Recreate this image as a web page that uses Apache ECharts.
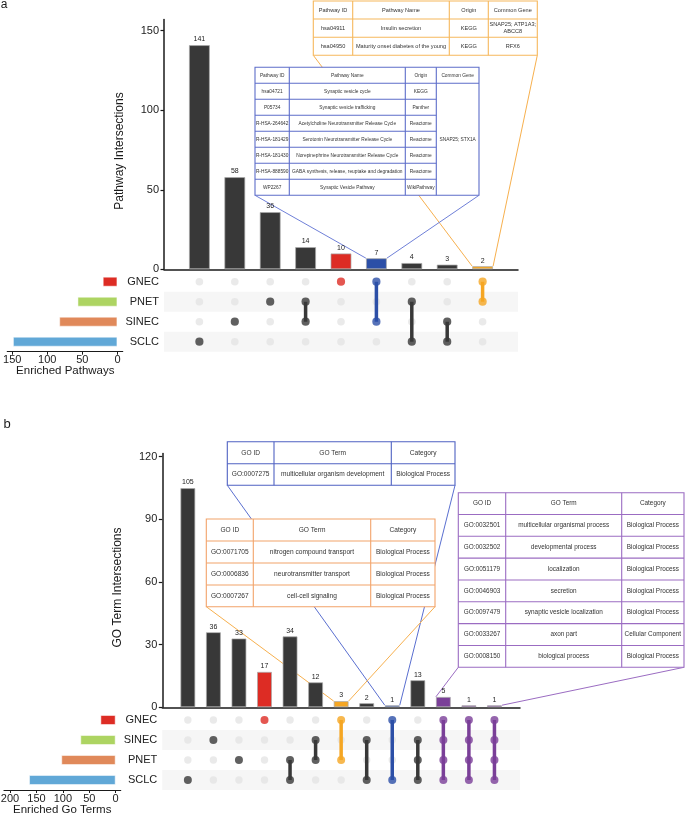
<!DOCTYPE html>
<html><head><meta charset="utf-8">
<script src="https://cdn.jsdelivr.net/npm/echarts@6/dist/echarts.min.js"></script>
<style>html,body{margin:0;padding:0;background:#fff}#c{width:685px;height:815px}</style>
</head><body><div id="c"></div>
<script>
// ---------------- data ----------------
const setsA = ['GNEC', 'PNET', 'SINEC', 'SCLC'];
const setSizesA = [21, 57, 83, 149];
const interValuesA = [141, 58, 36, 14, 10, 7, 4, 3, 2];
const interMembersA = [['SCLC'], ['SINEC'], ['PNET'], ['PNET', 'SINEC'], ['GNEC'], ['GNEC', 'SINEC'], ['PNET', 'SCLC'], ['SINEC', 'SCLC'], ['GNEC', 'PNET']];
const yTicksA = [0, 50, 100, 150];
const sideTicksA = [0, 50, 100, 150];

const setsB = ['GNEC', 'SINEC', 'PNET', 'SCLC'];
const setSizesB = [29, 67, 103, 164];
const interValuesB = [105, 36, 33, 17, 34, 12, 3, 2, 1, 13, 5, 1, 1];
const interMembersB = [['SCLC'], ['SINEC'], ['PNET'], ['GNEC'], ['PNET', 'SCLC'], ['SINEC', 'PNET'], ['GNEC', 'PNET'], ['SINEC', 'SCLC'], ['GNEC', 'SCLC'], ['SINEC', 'PNET', 'SCLC'], ['GNEC', 'SINEC', 'PNET', 'SCLC'], ['GNEC', 'SINEC', 'PNET', 'SCLC'], ['GNEC', 'SINEC', 'PNET', 'SCLC']];
const yTicksB = [0, 30, 60, 90, 120];
const sideTicksB = [0, 50, 100, 150, 200];

const tableA1Header = ['Pathway ID', 'Pathway Name', 'Origin', 'Common Gene'];
const tableA1Rows = [
  ['hsa04911', 'Insulin secretion', 'KEGG', 'SNAP25; ATP1A3;\nABCC8'],
  ['hsa04950', 'Maturity onset diabetes of the young', 'KEGG', 'RFX6']
];
const tableA2Header = ['Pathway ID', 'Pathway Name', 'Origin', 'Common Gene'];
const tableA2Rows = [
  ['hsa04721', 'Synaptic vesicle cycle', 'KEGG'],
  ['P05734', 'Synaptic vesicle trafficking', 'Panther'],
  ['R-HSA-264642', 'Acetylcholine Neurotransmitter Release Cycle', 'Reactome'],
  ['R-HSA-181429', 'Serotonin Neurotransmitter Release Cycle', 'Reactome'],
  ['R-HSA-181430', 'Norepinephrine Neurotransmitter Release Cycle', 'Reactome'],
  ['R-HSA-888590', 'GABA synthesis, release, reuptake and degradation', 'Reactome'],
  ['WP2267', 'Synaptic Vesicle Pathway', 'WikiPathway']
];
const tableA2Common = 'SNAP25; STX1A';

const goHeader = ['GO ID', 'GO Term', 'Category'];
const tableB1Rows = [['GO:0007275', 'multicellular organism development', 'Biological Process']];
const tableB2Rows = [
  ['GO:0071705', 'nitrogen compound transport', 'Biological Process'],
  ['GO:0006836', 'neurotransmitter transport', 'Biological Process'],
  ['GO:0007267', 'cell-cell signaling', 'Biological Process']
];
const tableB3Rows = [
  ['GO:0032501', 'multicellular organismal process', 'Biological Process'],
  ['GO:0032502', 'developmental process', 'Biological Process'],
  ['GO:0051179', 'localization', 'Biological Process'],
  ['GO:0046903', 'secretion', 'Biological Process'],
  ['GO:0097479', 'synaptic vesicle localization', 'Biological Process'],
  ['GO:0033267', 'axon part', 'Cellular Component'],
  ['GO:0008150', 'biological process', 'Biological Process']
];

// ---------------- style ----------------
const FN = "'Liberation Sans',Arial,sans-serif";
const TF = "'Liberation Sans',Arial,sans-serif";
const DARK = '#383838';
const GRAY = '#e5e5e5';
const RED = '#dd2c24', BLUE = '#2c4fa7', ORANGE = '#f5a623', PURPLE = '#7a3f98';
const ROW_COLORS = ['#dd2c24', '#add462', '#e0895a', '#61a8d7'];
const hlA = {4: RED, 5: BLUE, 8: ORANGE};
const hlB = {3: RED, 6: ORANGE, 8: BLUE, 10: PURPLE, 11: PURPLE, 12: PURPLE};

function upset(gBar, gMat, gSide, sets, sizes, vals, members, hl, bw, dot) {
  const s = [];
  s.push({
    type: 'bar', xAxisIndex: gBar, yAxisIndex: gBar, barWidth: bw, z: 2,
    data: vals.map((v, i) => ({value: [i + 1, v], itemStyle: {color: hl[i] || DARK}})),
    itemStyle: {borderColor: 'rgba(170,170,170,0.7)', borderWidth: 1},
    label: {show: true, position: 'top', distance: 2, fontSize: 7, fontFamily: FN, color: '#222'}
  });
  const gray = [], act = [];
  vals.forEach((v, i) => {
    sets.forEach(sn => {
      if (members[i].includes(sn)) act.push({value: [i + 1, sn], itemStyle: {color: hl[i] || DARK}});
      else gray.push([i + 1, sn]);
    });
    if (members[i].length > 1) {
      const pts = sets.filter(sn => members[i].includes(sn)).map(sn => [i + 1, sn]);
      s.push({type: 'line', xAxisIndex: gMat, yAxisIndex: gMat, data: pts, symbol: 'none',
        lineStyle: {color: hl[i] || DARK, width: 3.5}, z: 3, silent: true});
    }
  });
  s.push({type: 'scatter', xAxisIndex: gMat, yAxisIndex: gMat, data: gray, symbolSize: dot, itemStyle: {color: GRAY}, z: 2});
  s.push({type: 'scatter', xAxisIndex: gMat, yAxisIndex: gMat, data: act, symbolSize: dot + 0.6, z: 4});
  s.push({type: 'bar', xAxisIndex: gSide, yAxisIndex: gSide, barWidth: 10,
    itemStyle: {borderColor: 'rgba(255,255,255,0.5)', borderWidth: 1},
    data: sizes.map((v, k) => ({value: v, itemStyle: {color: ROW_COLORS[k]}}))});
  return s;
}

const AXL = {show: true, lineStyle: {color: '#1a1a1a', width: 1.5}};
const lbl = (extra) => Object.assign({fontSize: 11, fontFamily: FN, color: '#222'}, extra);

function barAxisX(g, max) {
  return {gridIndex: g, type: 'value', min: 0, max: max, axisLine: AXL, axisTick: {show: false}, axisLabel: {show: false}, splitLine: {show: false}};
}
function hiddenX(g, max) { return {gridIndex: g, type: 'value', min: 0, max: max, show: false}; }
function sideX(g, min, max, ticks) {
  return {gridIndex: g, type: 'value', min: min, max: max, inverse: true, position: 'bottom',
    axisLine: {show: true, lineStyle: {color: '#1a1a1a', width: 1.2}},
    axisTick: {show: true, length: 3, customValues: ticks, lineStyle: {color: '#1a1a1a'}},
    axisLabel: lbl({customValues: ticks, margin: 3}), splitLine: {show: false}};
}
function barAxisY(g, max, ticks) {
  return {gridIndex: g, type: 'value', min: 0, max: max,
    axisLine: AXL, axisTick: {show: true, length: 3.5, customValues: ticks, lineStyle: {color: '#1a1a1a', width: 1.2}},
    axisLabel: lbl({customValues: ticks, margin: 5}), splitLine: {show: false}};
}
function matY(g, sets) {
  return {gridIndex: g, type: 'category', data: sets, inverse: true,
    axisLine: {show: false}, axisTick: {show: false}, axisLabel: lbl({margin: 5}),
    splitLine: {show: false},
    splitArea: {show: true, areaStyle: {color: ['rgba(255,255,255,0)', '#f6f6f6']}}};
}
function sideY(g, sets) { return {gridIndex: g, type: 'category', data: sets, inverse: true, show: false}; }

const GB = {outerBoundsMode: 'none', containLabel: false};
const option = {
  animation: false,
  backgroundColor: '#fff',
  grid: [
    Object.assign({left: 164, top: 19.6, width: 354, height: 249.7}, GB),
    Object.assign({left: 164, top: 271.7, width: 354, height: 80}, GB),
    Object.assign({left: 7.3, top: 271.7, width: 115.4, height: 80}, GB),
    Object.assign({left: 162.3, top: 453.6, width: 357.7, height: 253.7}, GB),
    Object.assign({left: 162.3, top: 710, width: 357.7, height: 80}, GB),
    Object.assign({left: 4, top: 710, width: 116.7, height: 80}, GB)
  ],
  xAxis: [barAxisX(0, 10), hiddenX(1, 10), sideX(2, -7.5, 157, sideTicksA),
          barAxisX(3, 14), hiddenX(4, 14), sideX(5, -9.5, 211.4, sideTicksB)],
  yAxis: [barAxisY(0, 157, yTicksA), matY(1, setsA), sideY(2, setsA),
          barAxisY(3, 121.5, yTicksB), matY(4, setsB), sideY(5, setsB)],
  series: [].concat(
    upset(0, 1, 2, setsA, setSizesA, interValuesA, interMembersA, hlA, 21, 7.6),
    upset(3, 4, 5, setsB, setSizesB, interValuesB, interMembersB, hlB, 15, 7.4)
  )
};

const chart = echarts.init(document.getElementById('c'), null, {renderer: 'canvas'});
chart.setOption(option);

// ---------------- tables & leader lines ----------------
function table(xs, ys, rows, color, fs, merged) {
  const els = [];
  const W = xs[xs.length - 1] - xs[0], H = ys[ys.length - 1] - ys[0];
  els.push({type: 'rect', z: 50, shape: {x: xs[0], y: ys[0], width: W, height: H}, style: {fill: '#fff', stroke: color, lineWidth: 1.1}});
  for (let c = 1; c < xs.length - 1; c++) {
    els.push({type: 'line', z: 51, shape: {x1: xs[c], y1: ys[0], x2: xs[c], y2: ys[ys.length - 1]}, style: {stroke: color, lineWidth: 1.1}});
  }
  for (let r = 1; r < ys.length - 1; r++) {
    const xEnd = (merged && r > 1) ? xs[merged.col] : xs[xs.length - 1];
    els.push({type: 'line', z: 51, shape: {x1: xs[0], y1: ys[r], x2: xEnd, y2: ys[r]}, style: {stroke: color, lineWidth: 1.1}});
  }
  rows.forEach((row, r) => {
    row.forEach((t, c) => {
      if (t == null) return;
      els.push({type: 'text', z: 52, style: {text: t, x: (xs[c] + xs[c + 1]) / 2, y: (ys[r] + ys[r + 1]) / 2,
        align: 'center', verticalAlign: 'middle', fontSize: fs, fontFamily: TF, fill: '#333', lineHeight: fs * 1.25}});
    });
  });
  if (merged) {
    els.push({type: 'text', z: 52, style: {text: merged.text, x: (xs[merged.col] + xs[merged.col + 1]) / 2,
      y: (ys[1] + ys[ys.length - 1]) / 2, align: 'center', verticalAlign: 'middle', fontSize: fs, fontFamily: TF, fill: '#333'}});
  }
  return els;
}
function corner(g, i, v, bw, side) {
  const p = chart.convertToPixel({gridIndex: g}, [i + 1, v]);
  return [p[0] + side * bw / 2, p[1]];
}
function leader(from, to, color) {
  return {type: 'line', z: 1, shape: {x1: from[0], y1: from[1], x2: to[0], y2: to[1]}, style: {stroke: color, lineWidth: 1}};
}

const g = [];
const A1 = {xs: [313.3, 352.7, 449.3, 488.3, 537.3], ys: [1, 19, 37.3, 55.3]};
const A2 = {xs: [255, 289.3, 405.3, 436.3, 479], ys: [67.3, 83.3, 99.3, 115.3, 131.3, 147.3, 163.3, 179.3, 195.3]};
const B1 = {xs: [227.3, 274, 391.3, 455], ys: [441.7, 463.7, 485.3]};
const B2 = {xs: [206.3, 253.3, 370.7, 435], ys: [519, 541, 563, 585, 606.7]};
const B3 = {xs: [458.3, 505.7, 621.7, 684], ys: [492.7, 514.5, 536.3, 558.1, 580, 601.8, 623.6, 645.5, 667.3]};

const cA1 = '#f6b85c', cA2 = '#5d6dc9', cB1 = '#4f62c2', cB2 = '#f2a36a', cB3 = '#9b6cc2';

g.push(leader([A1.xs[0], A1.ys[3]], corner(0, 8, interValuesA[8], 21, -1), '#f7b04e'));
g.push(leader([A1.xs[4], A1.ys[3]], corner(0, 8, interValuesA[8], 21, 1), '#f7b04e'));
g.push(leader([A2.xs[0], A2.ys[8]], corner(0, 5, interValuesA[5], 21, -1), '#6f80d8'));
g.push(leader([A2.xs[4], A2.ys[8]], corner(0, 5, interValuesA[5], 21, 1), '#6f80d8'));
g.push(...table(A1.xs, A1.ys, [tableA1Header].concat(tableA1Rows), cA1, 5.6));
g.push(...table(A2.xs, A2.ys, [tableA2Header].concat(tableA2Rows), cA2, 4.8, {col: 3, text: tableA2Common}));

g.push(leader([B1.xs[0], B1.ys[2]], corner(3, 8, interValuesB[8], 15, -1), '#5a6fd0'));
g.push(leader([B1.xs[3], B1.ys[2]], corner(3, 8, interValuesB[8], 15, 1), '#5a6fd0'));
g.push(leader([B2.xs[0], B2.ys[4]], corner(3, 6, interValuesB[6], 15, -1), '#f7b04e'));
g.push(leader([B2.xs[3], B2.ys[4]], corner(3, 6, interValuesB[6], 15, 1), '#f7b04e'));
g.push(leader([B3.xs[0], B3.ys[8]], corner(3, 10, interValuesB[10], 15, -1), '#9b6cc2'));
g.push(leader([B3.xs[3], B3.ys[8]], corner(3, 12, interValuesB[12], 15, 1), '#9b6cc2'));
g.push(...table(B1.xs, B1.ys, [goHeader].concat(tableB1Rows), cB1, 6.6));
g.push(...table(B2.xs, B2.ys, [goHeader].concat(tableB2Rows), cB2, 6.6));
g.push(...table(B3.xs, B3.ys, [goHeader].concat(tableB3Rows), cB3, 6.4));

const txt = (t, x, y, fs, rot, fam) => ({type: 'text', z: 60, x: x, y: y, rotation: rot || 0,
  style: {text: t, x: 0, y: 0, align: 'center', verticalAlign: 'middle', fontSize: fs, fontFamily: fam || FN, fill: '#1a1a1a'}});
g.push(txt('a', 4, 4.5, 12, 0, TF));
g.push(txt('b', 7, 424, 13, 0, TF));
g.push(txt('Pathway Intersections', 120, 151, 12, Math.PI / 2));
g.push(txt('GO Term Intersections', 117.5, 587.5, 12, Math.PI / 2));
g.push(txt('Enriched Pathways', 65.3, 371, 11.5));
g.push(txt('Enriched Go Terms', 62.2, 810, 11.5));

chart.setOption({graphic: {elements: g}});
</script>
</body></html>
